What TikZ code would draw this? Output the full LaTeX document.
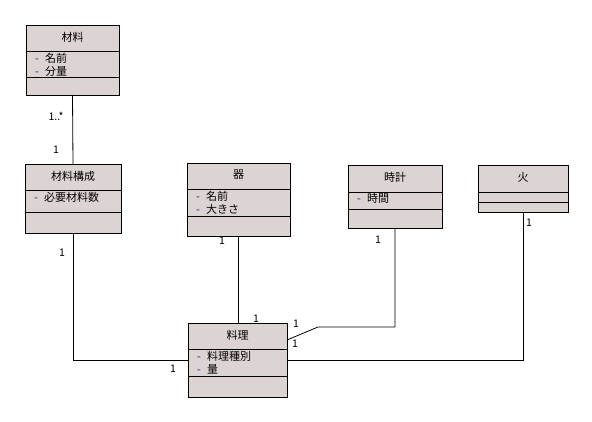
\documentclass[tikz,border=0pt]{standalone}
\usepackage{fontspec}
\setmainfont{Noto Sans CJK JP}
\usetikzlibrary{calc}
\definecolor{boxfill}{RGB}{220,212,210}
\definecolor{dashblue}{RGB}{30,30,150}
\tikzset{
  cls/.style={draw=black, fill=boxfill, line width=0.8pt, inner sep=0pt, outer sep=0pt, anchor=north west},
  ttl/.style={font=\fontsize{11}{13}\selectfont, inner sep=0pt},
  attr/.style={font=\fontsize{11}{13}\selectfont, inner sep=0pt, anchor=west},
  mult/.style={font=\fontsize{10.5}{12}\selectfont, inner sep=0pt},
  conn/.style={line width=0.8pt},
  divl/.style={line width=0.8pt}
}
\newcommand{\dsh}{\textcolor{dashblue}{-}\hspace{0.55em}}
\begin{document}
\begin{tikzpicture}[x=1pt,y=-1pt]
\useasboundingbox (0,0) rectangle (592,422);
% boxes
\node[cls, minimum width=93pt, minimum height=70pt] (zairyou) at (26,25) {};
\node[cls, minimum width=96pt, minimum height=69pt] (kousei) at (25,164) {};
\node[cls, minimum width=103pt, minimum height=73pt] (utsuwa) at (187,163) {};
\node[cls, minimum width=94pt, minimum height=63pt] (tokei) at (348,165) {};
\node[cls, minimum width=90pt, minimum height=47pt] (hi) at (478,165) {};
\node[cls, minimum width=99pt, minimum height=74pt] (ryouri) at (188,323) {};
% dividers
\draw[divl] (26,51) -- (119,51) (26,77) -- (119,77);
\draw[divl] (25,190) -- (121,190) (25,212) -- (121,212);
\draw[divl] (187,189) -- (290,189) (187,216) -- (290,216);
\draw[divl] (348,192) -- (442,192) (348,209) -- (442,209);
\draw[divl] (478,192) -- (568,192) (478,202) -- (568,202);
\draw[divl] (188,349) -- (287,349) (188,376) -- (287,376);
% titles
\node[ttl] (t1) at (72.5,37) {材料};
\node[ttl] (t2) at (73,176) {材料構成};
\node[ttl] (t3) at (238.5,175) {器};
\node[ttl] (t4) at (395,177) {時計};
\node[ttl] (t5) at (523,177) {火};
\node[ttl] (t6) at (237.5,335) {料理};
% attributes
\node[attr] (a1) at (35,58) {\dsh 名前};
\node[attr] (a2) at (35,71) {\dsh 分量};
\node[attr] (a3) at (34,197) {\dsh 必要材料数};
\node[attr] (a4) at (196,196) {\dsh 名前};
\node[attr] (a5) at (196,209) {\dsh 大きさ};
\node[attr] (a6) at (357,198) {\dsh 時間};
\node[attr] (a7) at (197,356) {\dsh 料理種別};
\node[attr] (a8) at (197,369) {\dsh 量};
% connectors
\draw[conn] (zairyou.south) -- (kousei.north);
\draw[conn] (kousei.south) |- (ryouri.west);
\draw[conn] (utsuwa.south) -- (utsuwa.south |- ryouri.north);
\coordinate (tk1) at (318,327);
\coordinate (tk2) at (287,340);
\draw[conn] (tokei.south) |- (tk1) -- (tk2);
\draw[conn] (hi.south) |- (ryouri.east);
% multiplicities
\node[mult] (m1) at (56,116) {1..*};
\node[mult] (m2) at (56,150) {1};
\node[mult] (m3) at (62,253) {1};
\node[mult] (m4) at (173,369) {1};
\node[mult] (m5) at (222,241) {1};
\node[mult] (m6) at (256,319) {1};
\node[mult] (m7) at (378,240) {1};
\node[mult] (m8) at (296,324) {1};
\node[mult] (m9) at (295,344) {1};
\node[mult] (m10) at (529,223) {1};
\end{tikzpicture}
\end{document}
